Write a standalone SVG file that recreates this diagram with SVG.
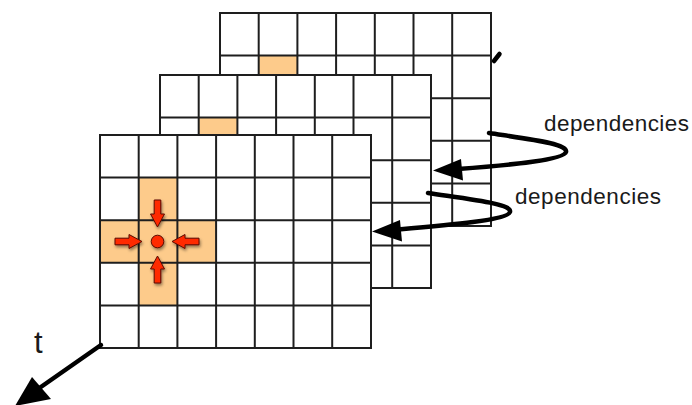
<svg xmlns="http://www.w3.org/2000/svg" xmlns:xlink="http://www.w3.org/1999/xlink" width="692" height="405" viewBox="0 0 692 405">
  <style>
    .sheet { fill: #ffffff; }
    .gridline { fill: none; stroke: #1e1e1e; stroke-width: 2; }
    .hot { fill: #fdcb8b; }
    .flow { fill: none; stroke: #000; stroke-width: 4.5; stroke-linecap: round; }
    .head { fill: #000; }
    .stencil { fill: #ff2a00; stroke: #5a0c00; stroke-width: 1; }
    .label { font-family: "Liberation Sans", Arial, Helvetica, sans-serif; fill: #1a1a1a; }
  </style>
  <defs>
    <!-- 7 x 5 cell grid, 271 x 213 -->
    <g id="gridlines">
      <rect class="gridline" x="0" y="0" width="271" height="213"/>
      <path class="gridline" d="M38.7 0V213M77.4 0V213M116.1 0V213M154.8 0V213M193.5 0V213M232.2 0V213
                                M0 42.6H271M0 85.2H271M0 127.8H271M0 170.4H271"/>
    </g>
    <!-- stencil arrow pointing down, tip at origin -->
    <polygon id="inArrow" class="stencil" points="0,0 -7,-13 -3.3,-13 -3.3,-27 3.3,-27 3.3,-13 7,-13"/>
    <filter id="soft" x="-50%" y="-50%" width="200%" height="200%">
      <feDropShadow dx="1" dy="2" stdDeviation="1.5" flood-color="#000" flood-opacity="0.45"/>
    </filter>
  </defs>

  <!-- time step t-2 (back) -->
  <g id="grid-back" transform="translate(220,13)">
    <rect class="sheet" width="271" height="213"/>
    <rect class="hot" x="38.7" y="42.6" width="38.7" height="42.6"/>
    <use xlink:href="#gridlines"/>
  </g>

  <!-- time step t-1 (middle) -->
  <g id="grid-middle" transform="translate(160,75)">
    <rect class="sheet" width="271" height="213"/>
    <rect class="hot" x="38.7" y="42.6" width="38.7" height="42.6"/>
    <use xlink:href="#gridlines"/>
  </g>

  <!-- time step t (front) with 5-point stencil -->
  <g id="grid-front" transform="translate(100,135)">
    <rect class="sheet" width="271" height="213"/>
    <rect class="hot" x="38.7" y="42.6" width="38.7" height="127.8"/>
    <rect class="hot" x="0" y="85.2" width="116.1" height="42.6"/>
    <use xlink:href="#gridlines"/>
  </g>

  <g id="stencil" filter="url(#soft)">
    <circle class="stencil" cx="157.5" cy="241.5" r="6.3"/>
    <use xlink:href="#inArrow" transform="translate(157.5,227)"/>
    <use xlink:href="#inArrow" transform="translate(157.5,256) rotate(180)"/>
    <use xlink:href="#inArrow" transform="translate(142,241.5) rotate(-90)"/>
    <use xlink:href="#inArrow" transform="translate(172,241.5) rotate(90)"/>
  </g>

  <g id="connectors">
    <!-- dependency back -> middle -->
    <path class="flow" d="M489 133C535 140 568 144 566 152C564 160 510 165 458 169"/>
    <polygon class="head" points="433,170.5 461,159 463,180.5"/>
    <!-- dependency middle -> front -->
    <path class="flow" d="M428 193C475 200 512 204 510 212C508 220 450 225 398 229.5"/>
    <polygon class="head" points="372,231.5 400,220 402,241.5"/>
    <!-- stub from an earlier step -->
    <path class="flow" d="M494 61L499.5 54" stroke-width="5"/>
    <!-- time axis -->
    <path class="flow" d="M101 345L38 389" stroke-width="6.5" stroke-linecap="butt"/>
    <polygon class="head" points="15,406 32,377 51,399"/>
  </g>

  <g id="labels">
    <text class="label" x="544" y="131" font-size="22.5" textLength="145">dependencies</text>
    <text class="label" x="515" y="204" font-size="22.5" textLength="146">dependencies</text>
    <text class="label" x="34" y="353" font-size="31">t</text>
  </g>
</svg>
